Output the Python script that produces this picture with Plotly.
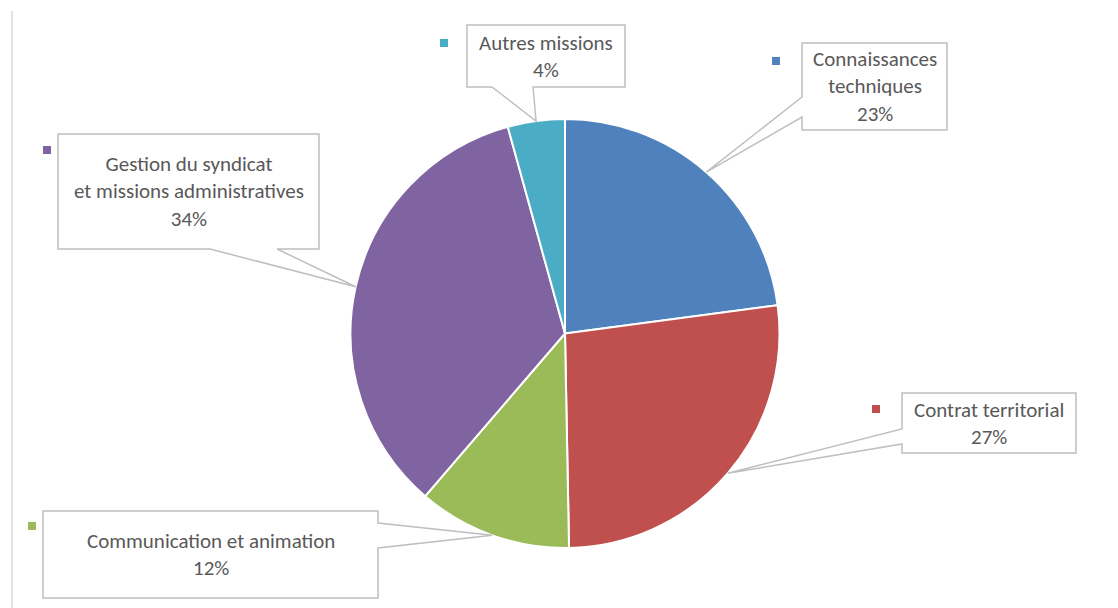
import math
import plotly.graph_objects as go

# ---- data ----
categories = ["Connaissances techniques", "Contrat territorial", "Communication et animation",
              "Gestion du syndicat et missions administratives", "Autres missions"]
label_texts = ["Connaissances<br>techniques", "Contrat territorial", "Communication et animation",
               "Gestion du syndicat<br>et missions administratives", "Autres missions"]
values = [22.9, 26.8, 11.6, 34.4, 4.3]
colors = ["#4F81BD", "#C0504D", "#9BBB59", "#8064A2", "#4BACC6"]

# ---- layout constants (pixels) ----
W, H = 1118, 608
CX, CY, R = 565, 333.5, 214.5
# callout boxes: x0, y0, x1, y1, side of pointer, base a, base b, legend square center
boxes = [
    (802, 43, 947, 130, "left", 97, 117, (776, 61)),
    (902, 393, 1076, 453, "left", 429, 444, (876, 409)),
    (43, 511, 378, 598, "right", 523, 548, (32, 526)),
    (58, 134, 319, 249, "bottom", 210, 277, (47, 150)),
    (467, 25, 625, 87, "bottom", 492, 533, (444, 43)),
]

fig = go.Figure()

fig.add_trace(go.Pie(
    labels=categories, values=values, sort=False, direction="clockwise", rotation=0,
    marker=dict(colors=colors, line=dict(color="white", width=2)),
    textinfo="none", hoverinfo="label+percent", showlegend=False,
    domain=dict(x=[(CX - R) / W, (CX + R) / W], y=[(H - CY - R) / H, (H - CY + R) / H]),
))

# invisible pixel axes for overlays
fig.add_trace(go.Scatter(x=[0, W], y=[0, H], mode="markers", marker=dict(opacity=0),
                         hoverinfo="skip", showlegend=False))

total = sum(values)
cum = 0
shapes = []
annotations = []
for i, v in enumerate(values):
    mid = (cum + v / 2) / total * 2 * math.pi
    cum += v
    tx = CX + R * math.sin(mid)
    ty = CY - R * math.cos(mid)
    x0, y0, x1, y1, side, a, b, sq = boxes[i]
    if side == "bottom":
        pts = [(x0, y0), (x1, y0), (x1, y1), (b, y1), (tx, ty), (a, y1), (x0, y1)]
    elif side == "left":
        pts = [(x0, y0), (x1, y0), (x1, y1), (x0, y1), (x0, b), (tx, ty), (x0, a)]
    else:
        pts = [(x0, y0), (x1, y0), (x1, a), (tx, ty), (x1, b), (x1, y1), (x0, y1)]
    path = "M " + " L ".join(f"{px:.1f},{py:.1f}" for px, py in pts) + " Z"
    shapes.append(dict(type="path", xref="x", yref="y", path=path,
                       fillcolor="white", line=dict(color="#BFBFBF", width=1.5), layer="above"))
    shapes.append(dict(type="rect", xref="x", yref="y", x0=sq[0] - 4, x1=sq[0] + 4,
                       y0=sq[1] - 4, y1=sq[1] + 4, fillcolor=colors[i], line=dict(width=0),
                       layer="above"))
    pct = round(v / total * 100)
    annotations.append(dict(x=(x0 + x1) / 2, y=(y0 + y1) / 2, xref="x", yref="y",
                            text=f"{label_texts[i]}<br>{pct}%", showarrow=False,
                            font=dict(family="Carlito, Calibri, Lato, sans-serif", size=21,
                                      color="#595959"),
                            align="center", xanchor="center", yanchor="middle"))

shapes.append(dict(type="line", xref="x", yref="y", x0=12, x1=12, y0=11, y1=H,
                   line=dict(color="#D9D9D9", width=1.5)))

fig.update_layout(
    width=W, height=H, margin=dict(l=0, r=0, t=0, b=0),
    paper_bgcolor="white", plot_bgcolor="white",
    xaxis=dict(range=[0, W], visible=False, domain=[0, 1], fixedrange=True),
    yaxis=dict(range=[H, 0], visible=False, domain=[0, 1], fixedrange=True),
    shapes=shapes, annotations=annotations, showlegend=False,
)

fig.write_html("out.html", post_script="document.body.style.margin='0';",
               config={"displayModeBar": False})
